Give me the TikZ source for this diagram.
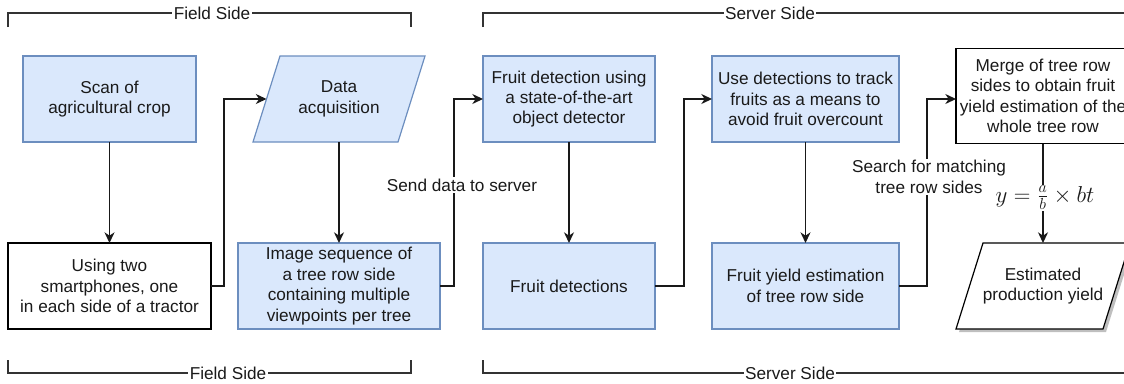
\documentclass[tikz,border=0pt]{standalone}
\usepackage[no-math]{fontspec}
\setmainfont{Liberation Sans}
\usetikzlibrary{arrows.meta,calc}
\definecolor{bfill}{HTML}{DAE8FC}
\definecolor{bdraw}{HTML}{6C8EBF}
\definecolor{txt}{HTML}{1A1A1A}
\pgfdeclarelayer{background}
\pgfsetlayers{background,main}
\begin{document}
\begin{tikzpicture}[x=0.75pt,y=-0.75pt,
  every node/.style={font=\fontsize{12.9}{15.3}\selectfont, text=txt, align=center},
  box/.style={rectangle, inner sep=0pt, outer sep=0pt, minimum height=64.5pt, line width=0.9pt},
  bluebox/.style={box, draw=bdraw, fill=bfill},
  whitebox/.style={box, draw=black, fill=white},
  paranode/.style={rectangle, inner sep=0pt, outer sep=0pt, minimum height=64.5pt},
  arr/.style={line width=0.95pt, draw=black!90, -{Stealth[length=8pt,width=7.5pt,inset=2.5pt]}},
  lbl/.style={fill=white, inner sep=1pt},
  brk/.style={line width=0.95pt, draw=black!80},
  brklbl/.style={fill=white, inner sep=1pt}
]
\useasboundingbox (0,0) rectangle (1124,383);

% brackets
\draw[brk] (8,27) -- (8,13) -- (411,13) -- (411,27);
\node[brklbl] (tf) at (212,13) {Field Side};
\draw[brk] (483,27) -- (483,13) -- (1124,13);
\node[brklbl] (ts) at (770,13) {Server Side};
\draw[brk] (8,360) -- (8,373) -- (411,373) -- (411,360);
\node[brklbl] (bf) at (228,373) {Field Side};
\draw[brk] (483,360) -- (483,373) -- (1124,373);
\node[brklbl] (bs) at (790,373) {Server Side};

% nodes
\node[bluebox, minimum width=129.75pt] (scan) at (109.5,99) {Scan of\\agricultural crop};
\node[whitebox, minimum width=152.25pt] (phones) at (109.5,286) {Using two\\smartphones, one\\in each side of a tractor};
\node[paranode, minimum width=108.75pt] (da) at (339,99) {Data\\acquisition};
\node[bluebox, minimum width=151.5pt] (img) at (339,286) {Image sequence of\\a tree row side\\containing multiple\\viewpoints per tree};
\node[bluebox, minimum width=129pt] (fd) at (569,99) {Fruit detection using\\a state-of-the-art\\object detector};
\node[bluebox, minimum width=129pt] (fds) at (569,286) {Fruit detections};
\node[bluebox, minimum width=140.25pt] (ud) at (805.5,99) {Use detections to track\\fruits as a means to\\avoid fruit overcount};
\node[bluebox, minimum width=140.25pt] (fy) at (805.5,286) {Fruit yield estimation\\of tree row side};
\node[whitebox, minimum width=130.5pt, minimum height=71.5pt] (mg) at (1043,96) {Merge of tree row\\sides to obtain fruit\\yield estimation of the\\whole tree row};
\node[paranode, minimum width=110.25pt] (est) at (1043,286) {Estimated\\production yield};
\coordinate (mgin) at (mg.west |- fd.west);

% parallelograms
\begin{pgfonlayer}{background}
\draw[line width=0.9pt, draw=bdraw, fill=bfill]
  ($(da.north west)+(13.5,0)$) -- ($(da.north east)+(13.5,0)$) --
  ($(da.south east)+(-13.5,0)$) -- ($(da.south west)+(-13.5,0)$) -- cycle;
\fill[black!25]
  ($(est.north west)+(16.5,3)$) -- ($(est.north east)+(16.5,3)$) --
  ($(est.south east)+(-10.5,3)$) -- ($(est.south west)+(-10.5,3)$) -- cycle;
\draw[line width=0.9pt, draw=black, fill=white]
  ($(est.north west)+(13.5,0)$) -- ($(est.north east)+(13.5,0)$) --
  ($(est.south east)+(-13.5,0)$) -- ($(est.south west)+(-13.5,0)$) -- cycle;
\end{pgfonlayer}

% connectors
\draw[arr] (scan.south) -- (phones.north);
\draw[arr] (phones.east) -- ++(13,0) |- (da.west);
\draw[arr] (da.south) -- (img.north);
\draw[arr] (img.east) -- ++(14,0) |- (fd.west);
\draw[arr] (fd.south) -- (fds.north);
\draw[arr] (fds.east) -- ++(29,0) |- (ud.west);
\draw[arr] (ud.south) -- (fy.north);
\draw[arr] (fy.east) -- ++(28,0) |- (mgin);
\draw[arr] (mg.south) -- (est.north);

% labels
\node[lbl] (l1) at (462,185) {Send data to server};
\node[lbl] (l2) at (929,177) {Search for matching\\tree row sides};
\node[lbl, font=\fontsize{16.5}{18}\selectfont] (l3) at (1045,198) {$y=\frac{a}{b}\times bt$};
\end{tikzpicture}
\end{document}
